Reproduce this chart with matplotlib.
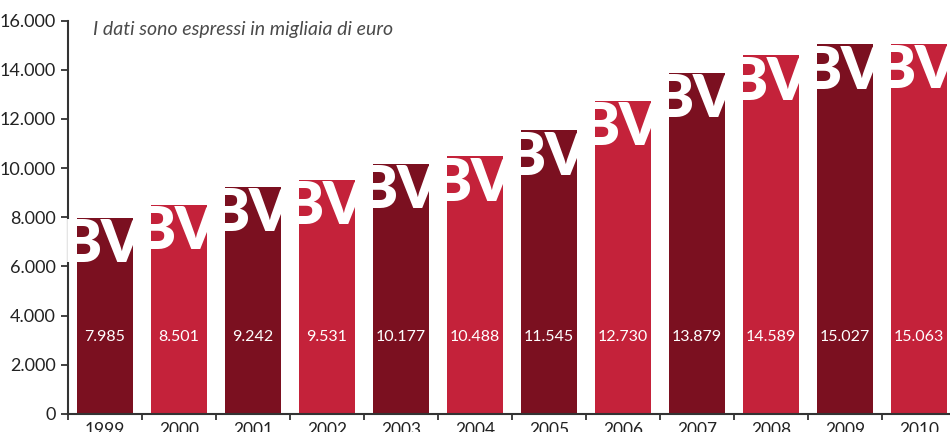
import matplotlib
matplotlib.use("Agg")
import matplotlib.pyplot as plt

anni = ["1999", "2000", "2001", "2002", "2003", "2004",
        "2005", "2006", "2007", "2008", "2009", "2010"]
valori = [7985, 8501, 9242, 9531, 10177, 10488,
          11545, 12730, 13879, 14589, 15027, 15063]
etichette = ["7.985", "8.501", "9.242", "9.531", "10.177", "10.488",
             "11.545", "12.730", "13.879", "14.589", "15.027", "15.063"]
y_ticks = [0, 2000, 4000, 6000, 8000, 10000, 12000, 14000, 16000]
y_labels = ["0", "2.000", "4.000", "6.000", "8.000", "10.000",
            "12.000", "14.000", "16.000"]

scuro = "#7b1020"
chiaro = "#c4223a"
colori = [scuro if i % 2 == 0 else chiaro for i in range(len(anni))]

plt.rcParams["font.family"] = ["Lato", "DejaVu Sans"]

fig = plt.figure(figsize=(9.5, 4.32), dpi=100)
ax = fig.add_axes([68 / 950, 18 / 432, 888 / 950, 393.5 / 432])

x = [i + 0.5 for i in range(len(anni))]
ax.bar(x, valori, width=0.77, color=colori, zorder=2)

for xi, v, lab in zip(x, valori, etichette):
    ax.text(xi, 3150, lab, ha="center", va="center", color="white",
            fontsize=11.5, zorder=3)
    ax.annotate("BV", xy=(xi, v), xytext=(-1, -32), textcoords="offset points",
                ha="center", va="baseline", color="white", fontsize=42,
                fontweight="heavy", zorder=3, annotation_clip=False)

ax.set_xlim(0, 12)
ax.set_ylim(0, 16000)
ax.set_yticks(y_ticks)
ax.set_yticklabels(y_labels)
ax.set_xticks(range(13))
ax.set_xticklabels([])
ax.set_xticks(x, minor=True)
ax.set_xticklabels(anni, minor=True)
ax.tick_params(axis="x", which="minor", length=0, pad=6, labelsize=12.5,
               colors="#222222")
ax.tick_params(axis="x", which="major", length=4, width=1.3, color="#333333")
ax.tick_params(axis="y", length=5, width=1.3, color="#333333", pad=4,
               labelsize=13, labelcolor="#222222")

for s in ["top", "right"]:
    ax.spines[s].set_visible(False)
for s in ["left", "bottom"]:
    ax.spines[s].set_color("#333333")
    ax.spines[s].set_linewidth(1.5)

fig.text(93 / 950, 1 - 30 / 432, "I dati sono espressi in migliaia di euro",
         ha="left", va="center", fontsize=14, style="italic",
         color="#4a4a4a")

fig.savefig("out.png", dpi=100)
